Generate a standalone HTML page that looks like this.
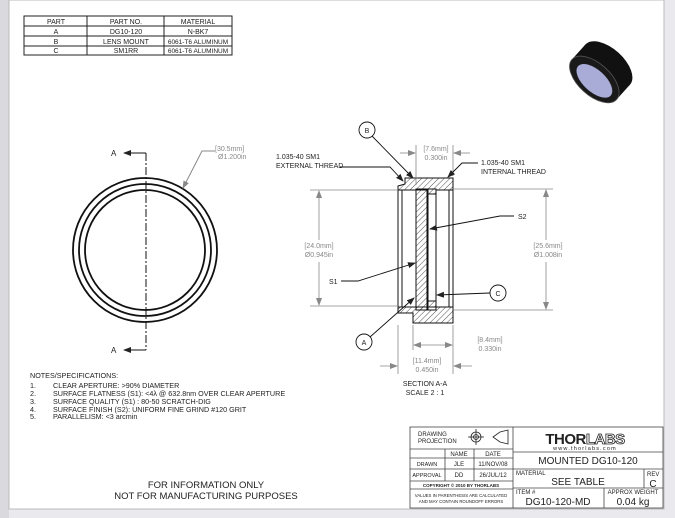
<!DOCTYPE html><html><head><style>
body{margin:0;width:675px;height:518px;background:#e9e9ee;overflow:hidden;font-family:"Liberation Sans",sans-serif}
svg{position:absolute;left:0;top:0}
</style></head><body>
<svg width="675" height="518" viewBox="0 0 675 518" font-family="Liberation Sans, sans-serif">
<defs>
<pattern id="h" width="4" height="4" patternUnits="userSpaceOnUse" patternTransform="rotate(45)"><line x1="0" y1="0" x2="0" y2="4" stroke="#222" stroke-width="0.8"/></pattern>
<marker id="ar" markerWidth="8" markerHeight="6" refX="7" refY="3" orient="auto" markerUnits="userSpaceOnUse"><path d="M0,0 L8,3 L0,6z" fill="#222"/></marker>
<marker id="ag" markerWidth="8" markerHeight="6" refX="7" refY="3" orient="auto" markerUnits="userSpaceOnUse"><path d="M0,0 L8,3 L0,6z" fill="#888"/></marker>
</defs>
<rect x="0" y="0" width="9" height="518" fill="#d9d9de"/>
<rect x="9" y="0" width="655" height="509" fill="#fff" stroke="#bbb"/>
<!-- parts table -->
<g font-size="7" text-anchor="middle" fill="#222">
<rect x="24" y="16" width="208" height="39" fill="none" stroke="#222"/>
<line x1="24" y1="26" x2="232" y2="26" stroke="#222"/><line x1="24" y1="36" x2="232" y2="36" stroke="#222"/><line x1="24" y1="46" x2="232" y2="46" stroke="#222"/>
<line x1="87" y1="16" x2="87" y2="55" stroke="#222"/><line x1="164" y1="16" x2="164" y2="55" stroke="#222"/>
<text x="56" y="24">PART</text><text x="126" y="24">PART NO.</text><text x="198" y="24">MATERIAL</text>
<text x="56" y="34">A</text><text x="126" y="34">DG10-120</text><text x="198" y="34">N-BK7</text>
<text x="56" y="44">B</text><text x="126" y="44">LENS MOUNT</text><text x="198" y="44" font-size="6.5">6061-T6 ALUMINUM</text>
<text x="56" y="53">C</text><text x="126" y="53">SM1RR</text><text x="198" y="53" font-size="6.5">6061-T6 ALUMINUM</text>
</g>
<!-- product image -->
<g transform="translate(601,72) rotate(-48)">
<ellipse cx="10" cy="0" rx="16" ry="30" fill="#111"/>
<rect x="-10" y="-30" width="20" height="60" fill="#111"/>
<ellipse cx="-10" cy="0" rx="16" ry="30" fill="#1a1a1a" stroke="#555" stroke-width="0.8"/>
<ellipse cx="-11" cy="1" rx="11" ry="22" fill="#a9acd6"/>
</g>
<!-- circle view -->
<g fill="none" stroke="#111" stroke-width="1.8">
<circle cx="145" cy="250" r="72"/><circle cx="145" cy="250" r="66"/><circle cx="145" cy="250" r="60"/>
</g>
<line x1="146" y1="153" x2="146" y2="350" stroke="#111" stroke-dasharray="8,2,2,2"/>
<line x1="146" y1="153" x2="124" y2="153" stroke="#111" marker-end="url(#ar)"/>
<line x1="146" y1="350" x2="124" y2="350" stroke="#111" marker-end="url(#ar)"/>
<g font-size="8" fill="#222"><text x="111" y="156">A</text><text x="111" y="353">A</text></g>
<polyline points="215,151 202,151 183,188" fill="none" stroke="#888" marker-end="url(#ag)"/>
<g font-size="7" fill="#888"><text x="215" y="151">[30.5mm]</text><text x="218" y="159">Ø1.200in</text></g>
<!-- section -->
<g stroke="#111" stroke-width="1">
<path d="M405,178 L453,178 L453,190 L398,190 L398,186 L405,184 Z" fill="url(#h)"/>
<path d="M398,307 L453,307 L453,323 L413,323 L413,313 L398,313 Z" fill="url(#h)"/>
<rect x="398" y="190" width="4" height="117" fill="#fff"/>
<rect x="416" y="189" width="11" height="121" fill="url(#h)"/>
<rect x="428" y="189" width="8" height="121" fill="#fff"/>
<rect x="428" y="189" width="8" height="5" fill="url(#h)"/>
<rect x="428" y="301" width="8" height="6" fill="url(#h)"/>
<rect x="449" y="190" width="4" height="117" fill="#fff"/>
</g>
<!-- dims -->
<g stroke="#888" stroke-width="0.8" fill="none">
<line x1="310" y1="190" x2="398" y2="190"/><line x1="310" y1="306" x2="398" y2="306"/>
<line x1="319" y1="240" x2="319" y2="191" marker-end="url(#ag)"/><line x1="319" y1="262" x2="319" y2="305" marker-end="url(#ag)"/>
<line x1="453" y1="189" x2="553" y2="189"/><line x1="453" y1="310" x2="553" y2="310"/>
<line x1="546" y1="240" x2="546" y2="190" marker-end="url(#ag)"/><line x1="546" y1="262" x2="546" y2="309" marker-end="url(#ag)"/>
<line x1="416" y1="145" x2="416" y2="185"/><line x1="453" y1="145" x2="453" y2="176"/>
<line x1="400" y1="153" x2="415" y2="153" marker-end="url(#ag)"/><line x1="470" y1="153" x2="454" y2="153" marker-end="url(#ag)"/>
<line x1="398" y1="325" x2="398" y2="374"/><line x1="413" y1="325" x2="413" y2="350"/><line x1="453" y1="325" x2="453" y2="374"/>
<line x1="433" y1="345" x2="414" y2="345" marker-end="url(#ag)"/><line x1="433" y1="345" x2="452" y2="345" marker-end="url(#ag)"/>
<line x1="380" y1="366" x2="397" y2="366" marker-end="url(#ag)"/><line x1="472" y1="366" x2="454" y2="366" marker-end="url(#ag)"/>
</g>
<g font-size="7" fill="#888" text-anchor="middle">
<text x="319" y="248">[24.0mm]</text><text x="319" y="257">Ø0.945in</text>
<text x="548" y="248">[25.6mm]</text><text x="548" y="257">Ø1.008in</text>
<text x="436" y="151">[7.6mm]</text><text x="436" y="160">0.300in</text>
<text x="490" y="342">[8.4mm]</text><text x="490" y="351">0.330in</text>
<text x="427" y="363">[11.4mm]</text><text x="427" y="372">0.450in</text>
</g>
<g font-size="7" fill="#222" text-anchor="middle"><text x="425" y="386">SECTION A-A</text><text x="425" y="395">SCALE 2 : 1</text></g>
<!-- labels -->
<g stroke="#111" stroke-width="0.9" fill="none">
<line x1="372" y1="136" x2="413" y2="178" marker-end="url(#ar)"/>
<polyline points="340,167 390,167 403,181" marker-end="url(#ar)"/>
<polyline points="478,163 462,163 448,177" marker-end="url(#ar)"/>
<polyline points="514,216 500,216 430,229" marker-end="url(#ar)"/>
<polyline points="341,281 358,281 415,263" marker-end="url(#ar)"/>
<line x1="490" y1="293" x2="437" y2="295" marker-end="url(#ar)"/>
<line x1="370" y1="337" x2="414" y2="298" marker-end="url(#ar)"/>
<circle cx="367" cy="130" r="8" fill="#fff"/><circle cx="498" cy="293" r="8" fill="#fff"/><circle cx="364" cy="342" r="8" fill="#fff"/>
</g>
<g font-size="7" fill="#222">
<text x="367" y="133" text-anchor="middle">B</text><text x="498" y="296" text-anchor="middle">C</text><text x="364" y="345" text-anchor="middle">A</text>
<text x="276" y="159">1.035-40 SM1</text><text x="276" y="168">EXTERNAL THREAD</text>
<text x="481" y="165">1.035-40 SM1</text><text x="481" y="174">INTERNAL THREAD</text>
<text x="518" y="219">S2</text><text x="329" y="284">S1</text>
</g>
<!-- notes -->
<g font-size="7.2" fill="#222">
<text x="30" y="378">NOTES/SPECIFICATIONS:</text>
<text x="30" y="388">1.</text><text x="53" y="388">CLEAR APERTURE: &gt;90% DIAMETER</text>
<text x="30" y="396">2.</text><text x="53" y="396">SURFACE FLATNESS (S1): &lt;4λ @ 632.8nm OVER CLEAR APERTURE</text>
<text x="30" y="404">3.</text><text x="53" y="404">SURFACE QUALITY (S1) : 80-50 SCRATCH-DIG</text>
<text x="30" y="412">4.</text><text x="53" y="412">SURFACE FINISH (S2): UNIFORM FINE GRIND #120 GRIT</text>
<text x="30" y="419">5.</text><text x="53" y="419">PARALLELISM: &lt;3 arcmin</text>
</g>
<g font-size="9.5" fill="#222" text-anchor="middle"><text x="206" y="488">FOR INFORMATION ONLY</text><text x="206" y="499">NOT FOR MANUFACTURING PURPOSES</text></g>
<!-- title block -->
<g stroke="#444" stroke-width="0.8" fill="none">
<rect x="410" y="427" width="253" height="81"/>
<line x1="513" y1="427" x2="513" y2="508"/>
<line x1="410" y1="449" x2="513" y2="449"/><line x1="410" y1="458" x2="513" y2="458"/><line x1="410" y1="469" x2="513" y2="469"/><line x1="410" y1="481" x2="513" y2="481"/><line x1="410" y1="489" x2="513" y2="489"/>
<line x1="445" y1="449" x2="445" y2="481"/><line x1="474" y1="449" x2="474" y2="481"/>
<line x1="513" y1="452" x2="663" y2="452"/><line x1="513" y1="469" x2="663" y2="469"/><line x1="513" y1="488" x2="663" y2="488"/>
<line x1="644" y1="469" x2="644" y2="488"/><line x1="604" y1="488" x2="604" y2="508"/>
<circle cx="476" cy="437" r="5" stroke="#222"/><circle cx="476" cy="437" r="2.5" stroke="#222"/>
<line x1="468" y1="437" x2="484" y2="437" stroke="#222"/><line x1="476" y1="429" x2="476" y2="445" stroke="#222"/>
<path d="M493,437 L500,432 L508,430 L508,444 L500,442 Z" stroke="#222"/>
</g>
<g fill="#222" font-size="6">
<text x="418" y="436">DRAWING</text><text x="418" y="443">PROJECTION</text>
<text x="459" y="456" text-anchor="middle">NAME</text><text x="493" y="456" text-anchor="middle">DATE</text>
<text x="427" y="466" text-anchor="middle" font-size="5.5">DRAWN</text><text x="459" y="466" text-anchor="middle">JLE</text><text x="493" y="466" text-anchor="middle">11/NOV/08</text>
<text x="427" y="477" text-anchor="middle" font-size="5.5">APPROVAL</text><text x="459" y="477" text-anchor="middle">DD</text><text x="493" y="477" text-anchor="middle">26/JUL/12</text>
<text x="461" y="487" text-anchor="middle" font-size="4.5" font-weight="bold">COPYRIGHT © 2010 BY THORLABS</text>
<text x="461" y="497" text-anchor="middle" font-size="4.3">VALUES IN PARENTHESIS ARE CALCULATED</text>
<text x="461" y="503" text-anchor="middle" font-size="4.3">AND MAY CONTAIN ROUNDOFF ERRORS</text>
<text x="585" y="444" text-anchor="middle" font-size="15" font-weight="bold" letter-spacing="-0.5">THOR<tspan fill="#fff" stroke="#222" stroke-width="0.8">LABS</tspan></text>
<text x="585" y="450" text-anchor="middle" font-size="5.5" letter-spacing="1.2">www.thorlabs.com</text>
<text x="588" y="464" text-anchor="middle" font-size="10">MOUNTED DG10-120</text>
<text x="516" y="475" font-size="6">MATERIAL</text>
<text x="578" y="485" text-anchor="middle" font-size="10">SEE TABLE</text>
<text x="647" y="476" font-size="6">REV</text><text x="653" y="487" text-anchor="middle" font-size="10">C</text>
<text x="516" y="494" font-size="6">ITEM #</text>
<text x="558" y="505" text-anchor="middle" font-size="10">DG10-120-MD</text>
<text x="633" y="494" text-anchor="middle" font-size="6">APPROX WEIGHT</text>
<text x="633" y="505" text-anchor="middle" font-size="10">0.04 kg</text>
</g>
</svg>
</body></html>
